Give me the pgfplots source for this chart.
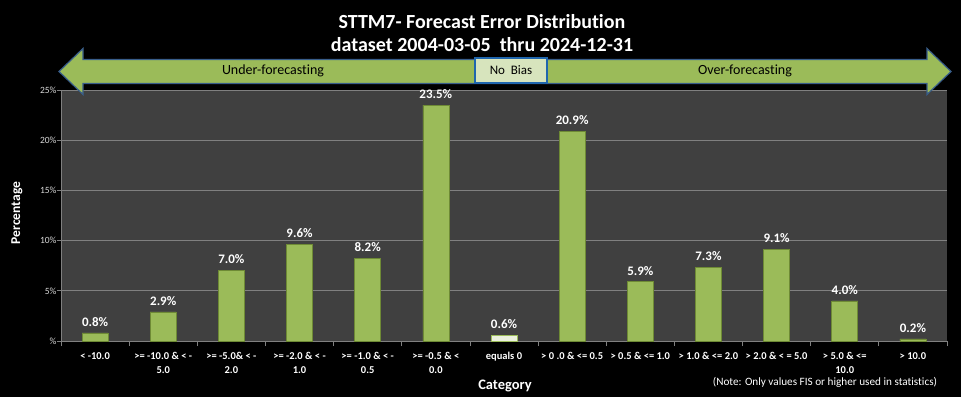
\documentclass[border=0pt]{standalone}
\usepackage{fontspec}
\setmainfont{Carlito}[Ligatures=NoCommon]
\usepackage{pgfplots}
\pgfplotsset{compat=1.18}
\definecolor{bargreen}{HTML}{9BBB59}
\definecolor{baredge}{HTML}{6E8A35}
\definecolor{barwhite}{HTML}{EBF1DE}
\definecolor{plotbg}{HTML}{404040}
\definecolor{gridgray}{HTML}{808080}
\definecolor{ticktext}{HTML}{D9D9D9}
\definecolor{arrowblue}{HTML}{385D8A}
\definecolor{boxblue}{HTML}{1F66AE}
\definecolor{boxfill}{HTML}{D7E4BD}
\begin{document}
\begin{tikzpicture}[x=1pt,y=1pt]
\fill[black] (0,0) rectangle (961,397);
\useasboundingbox (0,0) rectangle (961,397);
\begin{axis}[
  at={(61pt,56pt)}, anchor=south west,
  scale only axis, width=886pt, height=251pt,
  xmin=-0.5, xmax=12.5, ymin=0, ymax=25,
  /pgf/number format/assume math mode=true,
  axis background/.style={fill=plotbg},
  axis lines=left, axis line style={-, draw=gridgray, line width=0.8pt},
  ytick={0,5,...,25}, yticklabels={\%,5\%,10\%,15\%,20\%,25\%},
  ymajorgrids, grid style={draw=gridgray, line width=0.8pt},
  xtick={0,...,12},
  xticklabels={{< -10.0},{>= -10.0 \& < -\\5.0},{>= -5.0\& < -\\2.0},{>= -2.0 \& < -\\1.0},{>= -1.0 \& < -\\0.5},{>= -0.5 \& <\\0.0},{equals 0},{> 0 .0 \& <= 0.5},{> 0.5 \& <= 1.0},{> 1.0 \& <= 2.0},{> 2.0 \& < = 5.0},{> 5.0 \& <=\\10.0},{> 10.0}},
  minor xtick={-0.5,0.5,...,12.5},
  major x tick style={draw=none},
  minor x tick style={draw=gridgray, line width=0.8pt},
  major y tick style={draw=gridgray, line width=0.8pt},
  tick align=outside, minor tick length=5pt, major tick length=4pt,
  x tick label style={font=\fontsize{10.5}{14}\selectfont\bfseries, align=center, text=white, yshift=-4pt},
  y tick label style={font=\fontsize{9.5}{11}\selectfont, text=ticktext, xshift=3pt},
  ybar, bar width=26pt, bar shift=0pt,
  nodes near coords={\pgfmathprintnumber[fixed,fixed zerofill,precision=1]{\pgfplotspointmeta}\%},
  nodes near coords style={font=\fontsize{13}{15}\selectfont\bfseries, text=white, anchor=south, yshift=3pt},
  clip=false,
]
\addplot[fill=bargreen, draw=baredge, line width=0.6pt] coordinates {
  (0,0.8) (1,2.9) (2,7.0) (3,9.6) (4,8.2) (5,23.5)
  (7,20.9) (8,5.9) (9,7.3) (10,9.1) (11,4.0) (12,0.2)};
\addplot[fill=barwhite, draw=bargreen, line width=0.6pt] coordinates {(6,0.6)};
\end{axis}
% arrow
\draw[fill=bargreen, draw=arrowblue, line width=1.2pt, line join=miter]
  (59,325.5) -- (83,348.5) -- (83,337.5) -- (927,337.5) -- (927,348.5) -- (951,325.5)
  -- (927,302.5) -- (927,313.5) -- (83,313.5) -- (83,302.5) -- cycle;
\draw[fill=boxfill, draw=boxblue, line width=1.8pt] (475,314) rectangle (547,339);
\node[font=\fontsize{13}{15}\selectfont, text=black] at (511,326.5) {No\ \ Bias};
\node[font=\fontsize{14}{16}\selectfont, text=black] at (273,326) {Under-forecasting};
\node[font=\fontsize{14}{16}\selectfont, text=black] at (745,326) {Over-forecasting};
% titles
\node[font=\fontsize{20}{24}\selectfont\bfseries, text=white] at (482,375) {STTM7- Forecast Error Distribution};
\node[font=\fontsize{20}{24}\selectfont\bfseries, text=white] at (482,352) {dataset 2004-03-05\ \ thru 2024-12-31};
\node[font=\fontsize{14.5}{16}\selectfont\bfseries, text=white] at (505,11) {Category};
\node[font=\fontsize{13.5}{15}\selectfont\bfseries, text=white, rotate=90] at (17,184) {Percentage};
\node[font=\fontsize{11.2}{13}\selectfont, text=white] at (825,15) {(Note: Only values FIS or higher used in statistics)};
\end{tikzpicture}
\end{document}
